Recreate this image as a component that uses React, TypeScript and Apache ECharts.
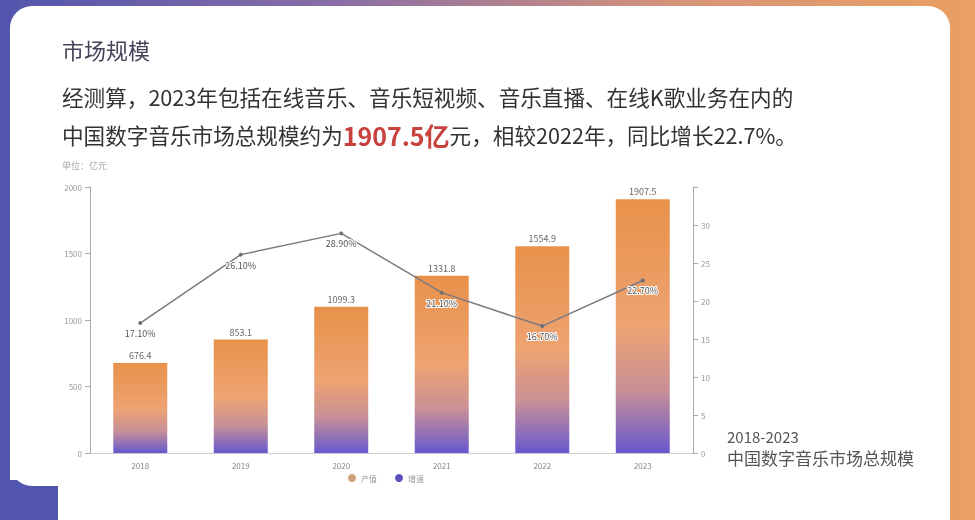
import React, { useEffect, useRef } from "react";
import * as echarts from "echarts";

const years = ["2018", "2019", "2020", "2021", "2022", "2023"];
const marketSize = [676.4, 853.1, 1099.3, 1331.8, 1554.9, 1907.5];
const growthRate = [17.1, 26.1, 28.9, 21.1, 16.7, 22.7];
const seriesNames = ["产值", "增速"];

const FONT = '"Noto Sans CJK SC", "Noto Sans", sans-serif';

export default function App() {
  const ref = useRef<HTMLDivElement>(null);
  useEffect(() => {
    document.body.style.margin = "0";
    const chart = echarts.init(ref.current!, null, { renderer: "svg" });
    const barGradient = new echarts.graphic.LinearGradient(0, 0, 0, 1, [
      { offset: 0, color: "#e8914a" },
      { offset: 0.5, color: "#eea371" },
      { offset: 0.75, color: "#c99096" },
      { offset: 1, color: "#6758cf" },
    ]);
    chart.setOption({
      animation: false,
      textStyle: { fontFamily: FONT },
      graphic: [
        {
          type: "rect",
          z: -10,
          silent: true,
          shape: { x: 0, y: 0, width: 975, height: 520 },
          style: {
            fill: new echarts.graphic.LinearGradient(0, 0, 1, 0, [
              { offset: 0, color: "#5255ad" },
              { offset: 0.35, color: "#8a6ea6" },
              { offset: 0.7, color: "#d89478" },
              { offset: 1, color: "#e9a062" },
            ]),
          },
        },
        {
          type: "rect",
          z: -9,
          silent: true,
          shape: { x: 0, y: 470, width: 70, height: 50 },
          style: { fill: "#5255ad" },
        },
        {
          type: "rect",
          z: -8,
          silent: true,
          shape: { x: 10, y: 6, width: 940, height: 480, r: 22 },
          style: { fill: "#ffffff" },
        },
        {
          type: "rect",
          z: -8,
          silent: true,
          shape: { x: 58, y: 450, width: 892, height: 80, r: [22, 0, 0, 0] },
          style: { fill: "#ffffff" },
        },
        {
          type: "rect",
          z: -8,
          silent: true,
          shape: { x: 10, y: 440, width: 100, height: 40, r: [0, 0, 22, 0] },
          style: { fill: "#ffffff" },
        },
        {
          type: "text",
          left: 62,
          top: 38,
          style: { text: "市场规模", fontSize: 22, fill: "#45455a", fontFamily: FONT },
        },
        {
          type: "text",
          left: 62,
          top: 86,
          style: {
            text: "经测算，2023年包括在线音乐、音乐短视频、音乐直播、在线K歌业务在内的",
            fontSize: 21.6,
            fill: "#333",
            fontFamily: FONT,
          },
        },
        {
          type: "text",
          left: 62,
          top: 122,
          style: {
            text: "{a|中国数字音乐市场总规模约为}{b|1907.5亿}{a|元，相较2022年，同比增长22.7%。}",
            fontFamily: FONT,
            rich: {
              a: { fontSize: 21.6, fill: "#333", color: "#333", fontFamily: FONT },
              b: { fontSize: 25, fontWeight: "bold", color: "#c8413c", fill: "#c8413c", fontFamily: FONT },
            },
          },
        },
        {
          type: "text",
          left: 62,
          top: 161,
          style: { text: "单位：亿元", fontSize: 9, fill: "#aaa", fontFamily: FONT },
        },
        {
          type: "text",
          left: 727,
          top: 428,
          style: { text: "2018-2023", fontSize: 15, lineHeight: 17, fill: "#555", fontFamily: FONT },
        },
        {
          type: "text",
          left: 727,
          top: 448,
          style: { text: "中国数字音乐市场总规模", fontSize: 17, lineHeight: 19, fill: "#555", fontFamily: FONT },
        },
      ],
      grid: { left: 90, right: 282, top: 187, bottom: 67 },
      legend: {
        bottom: 33,
        left: 343,
        itemWidth: 8,
        itemHeight: 8,
        itemGap: 18,
        icon: "circle",
        textStyle: { fontSize: 8, color: "#999" },
        data: [
          { name: seriesNames[0], itemStyle: { color: "#c9a27c" } },
          { name: seriesNames[1], itemStyle: { color: "#5a50c0" } },
        ],
      },
      xAxis: {
        type: "category",
        data: years,
        axisLine: { lineStyle: { color: "#ccc" } },
        axisTick: { alignWithLabel: true, lineStyle: { color: "#ccc" } },
        axisLabel: { fontSize: 8, color: "#888" },
      },
      yAxis: [
        {
          type: "value",
          min: 0,
          max: 2000,
          interval: 500,
          axisLine: { show: true, lineStyle: { color: "#aaa" } },
          axisTick: { show: true, lineStyle: { color: "#aaa" } },
          axisLabel: { fontSize: 8, color: "#999", formatter: (v: number) => String(v) },
          splitLine: { show: false },
        },
        {
          type: "value",
          min: 0,
          max: 35,
          interval: 5,
          position: "right",
          axisLine: { show: true, lineStyle: { color: "#aaa" } },
          axisTick: { show: true, lineStyle: { color: "#aaa" } },
          axisLabel: {
            fontSize: 8,
            color: "#999",
            formatter: (v: number) => (v === 35 ? "" : String(v)),
          },
          splitLine: { show: false },
        },
      ],
      series: [
        {
          name: seriesNames[0],
          type: "bar",
          data: marketSize,
          barWidth: 54,
          itemStyle: { color: barGradient },
          label: {
            show: true,
            position: "top",
            fontSize: 9,
            color: "#666",
            distance: 3,
          },
        },
        {
          name: seriesNames[1],
          type: "line",
          yAxisIndex: 1,
          data: growthRate,
          symbol: "circle",
          symbolSize: 4,
          itemStyle: { color: "#6f6f78" },
          lineStyle: { color: "#7a7a85", width: 1.5 },
          label: {
            show: true,
            position: "bottom",
            distance: 4,
            fontSize: 9,
            color: "#555",
            textBorderColor: "#fff",
            textBorderWidth: 2,
            formatter: (p: any) => p.value.toFixed(2) + "%",
          },
          z: 5,
        },
      ],
    });
    return () => chart.dispose();
  }, []);
  return (
    <div
      ref={ref}
      style={{ position: "fixed", left: 0, top: 0, width: 975, height: 520 }}
    />
  );
}
